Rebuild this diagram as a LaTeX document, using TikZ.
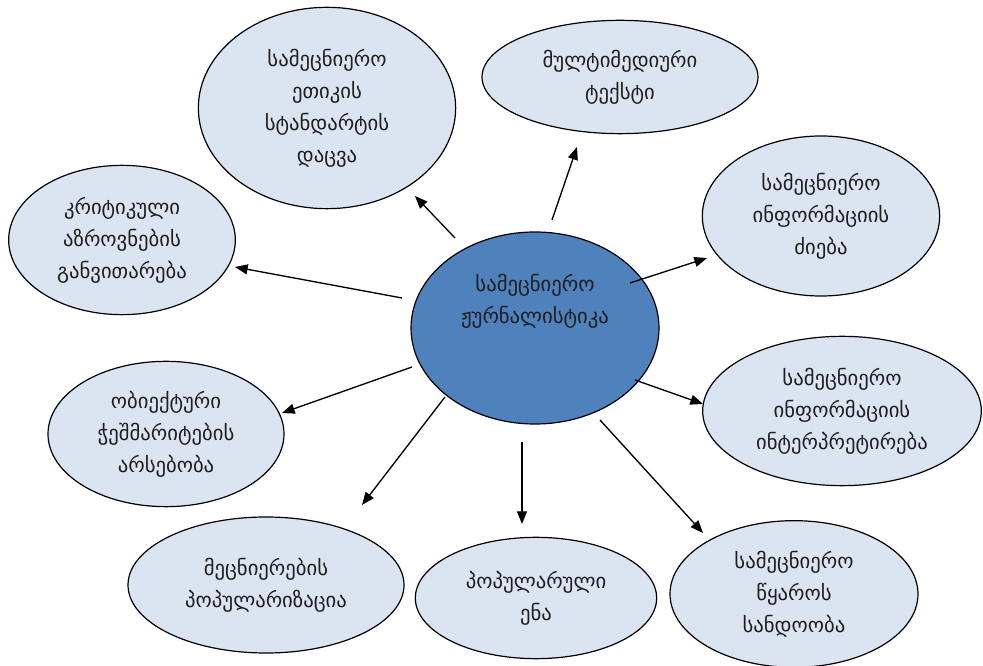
\documentclass[tikz,border=0pt]{standalone}
\usepackage{fontspec}
\setmainfont{DejaVu Sans}
\usetikzlibrary{shapes.geometric,arrows.meta}
\definecolor{lightfill}{RGB}{219,229,241}
\definecolor{centerfill}{RGB}{79,129,189}
\definecolor{txtcol}{RGB}{30,30,30}
\begin{document}
\begin{tikzpicture}[x=0.75pt,y=-0.75pt,
  bub/.style={ellipse,draw=black,line width=0.9pt,fill=lightfill,inner sep=0pt},
  cbub/.style={ellipse,draw=black,line width=0.9pt,fill=centerfill,inner sep=0pt},
  lbl/.style={align=center,font=\fontsize{15.5}{24}\selectfont,text=txtcol},
  arr/.style={line width=1pt,-{Triangle[length=9.5pt,width=7.5pt]}}]
\useasboundingbox (0,0) rectangle (983,666);
% centre
\node[cbub,minimum width=186pt,minimum height=144pt] (c) at (535,328) {};
\node[lbl] (ct) at (535,301) {სამეცნიერო\\ჟურნალისტიკა};
% outer bubbles
\node[bub,minimum width=193pt,minimum height=151pt,lbl] (ethics) at (327,108) {სამეცნიერო\\ეთიკის\\სტანდარტის\\დაცვა};
\node[bub,minimum width=170pt,minimum height=112pt,lbl] (crit) at (122,240) {კრიტიკული\\აზროვნების\\განვითარება};
\node[bub,minimum width=207pt,minimum height=85pt,lbl] (multi) at (620,77) {მულტიმედიური\\ტექსტი};
\node[bub,minimum width=178pt,minimum height=120pt,lbl] (info) at (821,216) {სამეცნიერო\\ინფორმაციის\\ძიება};
\node[bub,minimum width=209pt,minimum height=112pt,lbl] (interp) at (842,411) {სამეცნიერო\\ინფორმაციის\\ინტერპრეტირება};
\node[bub,minimum width=186pt,minimum height=110pt,lbl] (source) at (794,594) {სამეცნიერო\\წყაროს\\სანდოობა};
\node[bub,minimum width=181pt,minimum height=91pt,lbl] (lang) at (536,598) {პოპულარული\\ენა};
\node[bub,minimum width=207pt,minimum height=102pt,lbl] (popul) at (266,585) {მეცნიერების\\პოპულარიზაცია};
\node[bub,minimum width=177pt,minimum height=109pt,lbl] (obj) at (166,434) {ობიექტური\\ჭეშმარიტების\\არსებობა};
% arrow end points
\coordinate (s1) at (455,238); \coordinate (t1) at (415,196);
\coordinate (s2) at (402,298); \coordinate (t2) at (235,267);
\coordinate (s3) at (552,220); \coordinate (t3) at (577,147);
\coordinate (s4) at (630,283); \coordinate (t4) at (707,258);
\coordinate (s5) at (635,380); \coordinate (t5) at (703,404);
\coordinate (s6) at (600,420); \coordinate (t6) at (703,533);
\coordinate (s7) at (522,442); \coordinate (t7) at (522,524);
\coordinate (s8) at (445,397); \coordinate (t8) at (362,505);
\coordinate (s9) at (412,367); \coordinate (t9) at (282,413);
\foreach \i in {1,...,9} {\draw[arr] (s\i) -- (t\i);}
\end{tikzpicture}
\end{document}
